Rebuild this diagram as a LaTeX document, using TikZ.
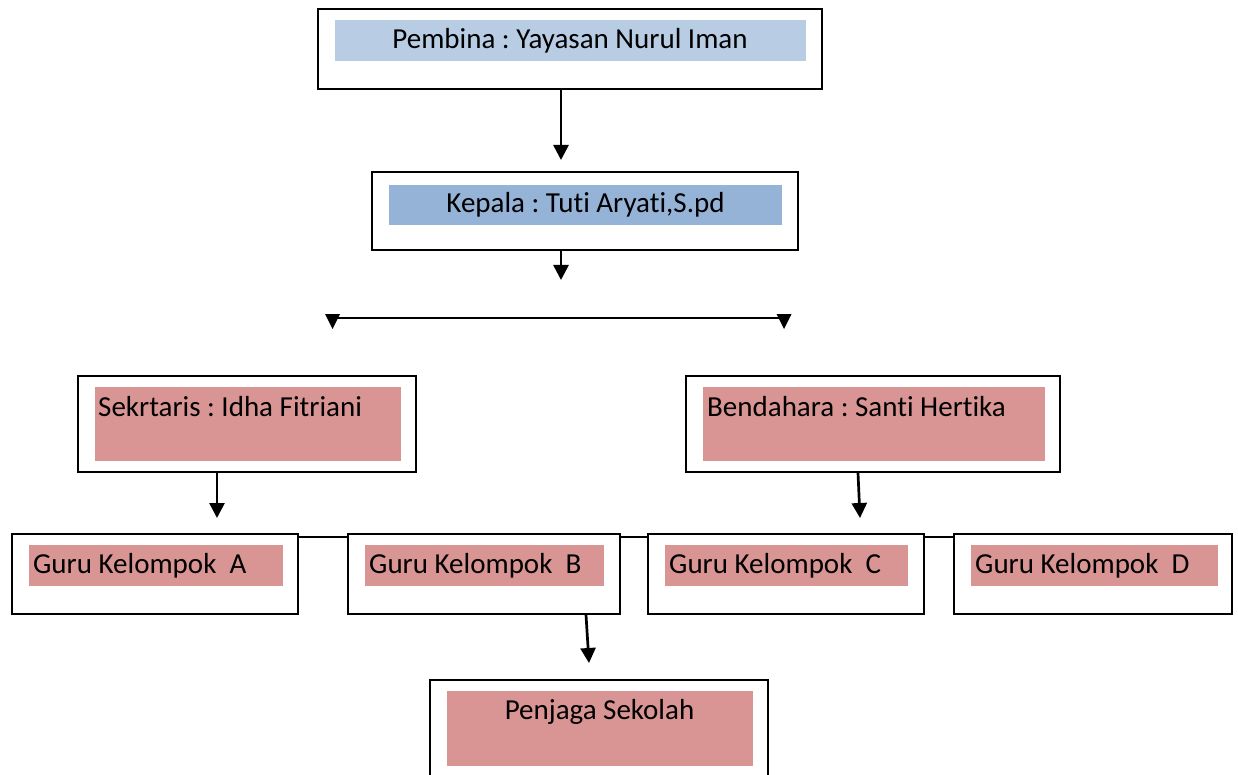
\documentclass[tikz,border=0pt]{standalone}
\usepackage{fontspec}
\setmainfont{Carlito}[RawFeature={-liga;-clig;-dlig;-calt}]
\usetikzlibrary{arrows.meta}
\definecolor{lblue}{HTML}{B8CCE4}
\definecolor{mblue}{HTML}{95B3D7}
\definecolor{pinkf}{HTML}{D99594}
\tikzset{
  outerbox/.style={draw=black, line width=2pt, fill=white, inner sep=0pt, rectangle},
  fillbox/.style={inner sep=0pt, rectangle, draw=none},
  lbl/.style={inner sep=0pt, font=\fontsize{29}{35}\selectfont\frenchspacing, text=black},
  arr/.style={line width=2.7pt, -{Triangle[width=15pt,length=15pt]}},
  conn/.style={line width=2.2pt},
}
\begin{document}
\begin{tikzpicture}[x=1pt,y=-1pt]
\useasboundingbox (0,0) rectangle (1238,775);
\clip (0,0) rectangle (1238,775);
% outer boxes
\node[outerbox, minimum width=504pt, minimum height=80pt] (pembina) at (570,49) {};
\node[outerbox, minimum width=426pt, minimum height=78pt] (kepala) at (585,211) {};
\node[outerbox, minimum width=338pt, minimum height=96pt] (sek) at (247,424) {};
\node[outerbox, minimum width=374pt, minimum height=96pt] (ben) at (873,424) {};
\node[outerbox, minimum width=286pt, minimum height=80pt] (ga) at (155,574) {};
\node[outerbox, minimum width=272pt, minimum height=80pt] (gb) at (484,574) {};
\node[outerbox, minimum width=276pt, minimum height=80pt] (gc) at (786,574) {};
\node[outerbox, minimum width=278pt, minimum height=80pt] (gd) at (1093,574) {};
\node[outerbox, minimum width=338pt, minimum height=120pt] (penjaga) at (599,740) {};
% inner fills
\node[fillbox, fill=lblue, minimum width=471pt, minimum height=41pt] (pembinaF) at (570.5,40.5) {};
\node[fillbox, fill=mblue, minimum width=393pt, minimum height=40pt] (kepalaF) at (585.5,205) {};
\node[fillbox, fill=pinkf, minimum width=306pt, minimum height=74pt] (sekF) at (248,424) {};
\node[fillbox, fill=pinkf, minimum width=342pt, minimum height=74pt] (benF) at (874,424) {};
\node[fillbox, fill=pinkf, minimum width=254pt, minimum height=41pt] (gaF) at (156,565.5) {};
\node[fillbox, fill=pinkf, minimum width=239pt, minimum height=41pt] (gbF) at (484.5,565.5) {};
\node[fillbox, fill=pinkf, minimum width=243pt, minimum height=41pt] (gcF) at (786.5,565.5) {};
\node[fillbox, fill=pinkf, minimum width=247pt, minimum height=41pt] (gdF) at (1094.5,565.5) {};
\node[fillbox, fill=pinkf, minimum width=306pt, minimum height=75pt] (penjagaF) at (600,728.5) {};
% texts
\node[lbl, anchor=base] (pembinaT) at (570,49) {Pembina : Yayasan Nurul Iman};
\node[lbl, anchor=base] (kepalaT) at (585.5,213) {Kepala : Tuti Aryati,S.pd};
\node[lbl, anchor=base west] (sekT) at (98,416) {Sekrtaris : Idha Fitriani};
\node[lbl, anchor=base west] (benT) at (707,416) {Bendahara : Santi Hertika};
\node[lbl, anchor=base west] (gaT) at (33,573) {Guru Kelompok\ \ A};
\node[lbl, anchor=base west] (gbT) at (369,573) {Guru Kelompok\ \ B};
\node[lbl, anchor=base west] (gcT) at (669,573) {Guru Kelompok\ \ C};
\node[lbl, anchor=base west] (gdT) at (975,573) {Guru Kelompok\ \ D};
\node[lbl, anchor=base] (penjagaT) at (599.5,719) {Penjaga Sekolah};
% connectors
\coordinate (a1) at (561,160);
\coordinate (a2) at (561,280);
\draw[arr] (pembina.south -| a1) -- (a1);
\draw[arr] (kepala.south -| a2) -- (a2);
\coordinate (hl) at (332.5,318);
\coordinate (hr) at (784,318);
\draw[conn] (hl) -- (hr);
\fill (325,314) -- (340,314) -- (332.5,329) -- cycle;
\fill (776.5,314) -- (791.5,314) -- (784,329) -- cycle;
\coordinate (s1) at (217,472);
\coordinate (s2) at (217,518);
\draw[arr] (sek.south -| s1) -- (s2);
\coordinate (b1) at (858,472);
\coordinate (b2) at (860,518);
\draw[arr] (ben.south -| b1) -- (b2);
\coordinate (p1) at (586,614);
\coordinate (p2) at (589,663);
\draw[arr] (gb.south -| p1) -- (p2);
\coordinate (gl) at (0,537);
\draw[conn] (ga.east |- gl) -- (gb.west |- gl);
\draw[conn] (gb.east |- gl) -- (gc.west |- gl);
\draw[conn] (gc.east |- gl) -- (gd.west |- gl);
\end{tikzpicture}
\end{document}
